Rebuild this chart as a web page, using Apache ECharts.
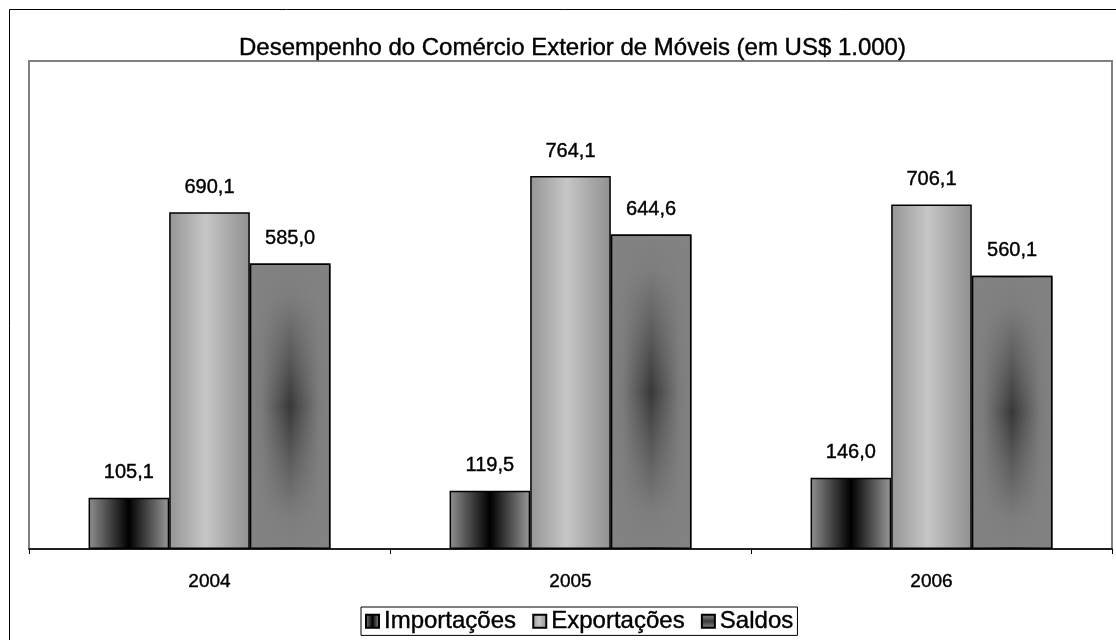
<!DOCTYPE html>
<html lang="pt" style="height: 100%">
<head>
    <meta charset="UTF-8">
    <title>Desempenho do Comércio Exterior de Móveis</title>
    <script src="https://cdn.jsdelivr.net/npm/echarts@6/dist/echarts.min.js"></script>
</head>
<body style="height: 100%; margin: 0; background: #fff">
    <div id="main" style="width: 1116px; height: 640px"></div>
    <script>
        // dados (em US$ 1.000)
        var anos = ['2004', '2005', '2006'];
        var importacoes = [105.1, 119.5, 146.0];
        var exportacoes = [690.1, 764.1, 706.1];
        var saldos = [585.0, 644.6, 560.1];
        var nomes = ['Importações', 'Exportações', 'Saldos'];

        var chart = echarts.init(document.getElementById('main'));
        var fonte = '"Liberation Sans", Arial, sans-serif';

        function fmt(p) {
            return p.value.toFixed(1).replace('.', ',');
        }

        // texto um pouco mais "cheio", como no original
        var grosso = { textBorderColor: '#000', textBorderWidth: 0.4 };

        var rotulo = Object.assign({
            show: true,
            position: 'top',
            distance: 15,
            color: '#000',
            fontSize: 20,
            fontFamily: fonte,
            formatter: fmt
        }, grosso);

        // degradês parecidos com os do Excel
        var corImp = new echarts.graphic.LinearGradient(0, 0, 1, 0, [
            { offset: 0, color: '#909090' },
            { offset: 0.5, color: '#000000' },
            { offset: 1, color: '#9a9a9a' }
        ]);
        var corExp = new echarts.graphic.LinearGradient(0, 0, 1, 0, [
            { offset: 0, color: '#959595' },
            { offset: 0.45, color: '#c6c6c6' },
            { offset: 1, color: '#909090' }
        ]);
        var corSal = new echarts.graphic.LinearGradient(0, 0, 0, 1, [
            { offset: 0, color: '#828282' },
            { offset: 0.12, color: '#7c7c7c' },
            { offset: 0.32, color: '#5a5a5a' },
            { offset: 0.5, color: '#383838' },
            { offset: 0.68, color: '#5a5a5a' },
            { offset: 0.88, color: '#7c7c7c' },
            { offset: 1, color: '#828282' }
        ]);
        // camada por cima do Saldos para escurecer só o meio
        var corSalBorda = new echarts.graphic.LinearGradient(0, 0, 1, 0, [
            { offset: 0, color: 'rgba(130,130,130,1)' },
            { offset: 0.15, color: 'rgba(130,130,130,0.9)' },
            { offset: 0.35, color: 'rgba(130,130,130,0.4)' },
            { offset: 0.5, color: 'rgba(130,130,130,0)' },
            { offset: 0.65, color: 'rgba(130,130,130,0.4)' },
            { offset: 0.85, color: 'rgba(130,130,130,0.9)' },
            { offset: 1, color: 'rgba(130,130,130,1)' }
        ]);

        var borda = { borderColor: '#000', borderWidth: 1.5 };

        var option = {
            animation: false,
            backgroundColor: '#fff',
            title: {
                text: 'Desempenho do Comércio Exterior de Móveis (em US$ 1.000)',
                left: 234,
                top: 31,
                textStyle: Object.assign({
                    color: '#000',
                    fontSize: 24,
                    fontWeight: 'normal',
                    fontFamily: fonte
                }, grosso)
            },
            legend: {
                data: nomes,
                left: 361,
                top: 607,
                icon: 'rect',
                itemWidth: 13,
                itemHeight: 13,
                itemGap: 16,
                padding: [2, 4],
                borderColor: '#000',
                borderWidth: 1,
                textStyle: Object.assign({ color: '#000', fontSize: 24, fontFamily: fonte }, grosso)
            },
            graphic: [{
                type: 'rect',
                shape: { x: 9.5, y: 9.5, width: 1130, height: 650 },
                style: { fill: null, stroke: '#000', lineWidth: 1 },
                z: 100
            }],
            grid: {
                left: 29,
                right: 4,
                top: 61,
                bottom: 91,
                show: true,
                borderColor: '#808080',
                borderWidth: 2
            },
            xAxis: [{
                type: 'category',
                data: anos,
                axisLine: { lineStyle: { color: '#000', width: 1.5 } },
                axisTick: { show: true, length: 5, lineStyle: { color: '#000' } },
                axisLabel: Object.assign({ color: '#000', fontSize: 19, fontFamily: fonte, margin: 23 }, grosso)
            }, {
                type: 'category',
                data: anos,
                show: false
            }],
            yAxis: {
                type: 'value',
                min: 0,
                max: 1000,
                show: false,
                splitLine: { show: false }
            },
            series: [{
                name: nomes[0],
                type: 'bar',
                data: importacoes,
                barGap: 0,
                barCategoryGap: '33%',
                itemStyle: Object.assign({ color: corImp }, borda),
                label: rotulo
            }, {
                name: nomes[1],
                type: 'bar',
                data: exportacoes,
                itemStyle: Object.assign({ color: corExp }, borda),
                label: rotulo
            }, {
                name: nomes[2],
                type: 'bar',
                data: saldos,
                itemStyle: Object.assign({ color: corSal }, borda),
                label: rotulo
            },
            // eixo auxiliar: só a terceira barra recebe a camada
            { name: 'a', type: 'bar', xAxisIndex: 1, data: [], barGap: 0, barCategoryGap: '33%' },
            { name: 'b', type: 'bar', xAxisIndex: 1, data: [] },
            {
                name: 'c',
                type: 'bar',
                xAxisIndex: 1,
                data: saldos,
                silent: true,
                itemStyle: Object.assign({ color: corSalBorda }, borda),
                z: 3
            }]
        };
        chart.setOption(option);
    </script>
</body>
</html>
